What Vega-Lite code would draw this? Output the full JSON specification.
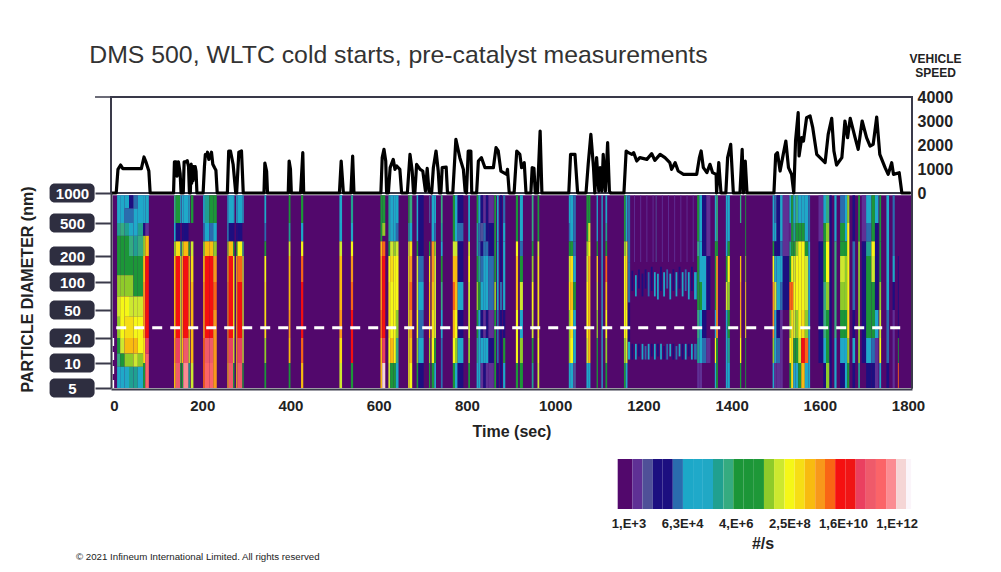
{"$schema":"https://vega.github.io/schema/vega-lite/v6.json","background":"white","padding":{"left":18,"top":42,"right":0,"bottom":0},"bounds":"flush","spacing":0,"config":{"font":"Liberation Sans","view":{"stroke":null}},
"datasets":{
"speed":[{"t":-5,"v":0},{"t":5,"v":0},{"t":9,"v":986},{"t":15,"v":1166},{"t":20,"v":1014},{"t":62,"v":1014},{"t":68,"v":1500},{"t":73,"v":1264},{"t":79,"v":916},{"t":82,"v":0},{"t":135,"v":0},{"t":137,"v":1300},{"t":141,"v":1300},{"t":143,"v":700},{"t":146,"v":1300},{"t":150,"v":800},{"t":152,"v":0},{"t":157,"v":0},{"t":159,"v":1300},{"t":163,"v":1300},{"t":166,"v":1350},{"t":169,"v":1100},{"t":171,"v":0},{"t":173,"v":0},{"t":175,"v":1200},{"t":176,"v":400},{"t":178,"v":1100},{"t":179,"v":500},{"t":181,"v":1100},{"t":182,"v":600},{"t":184,"v":1100},{"t":186,"v":900},{"t":188,"v":0},{"t":202,"v":0},{"t":205,"v":1100},{"t":207,"v":1600},{"t":210,"v":1550},{"t":212,"v":1700},{"t":215,"v":1400},{"t":218,"v":1500},{"t":221,"v":1700},{"t":224,"v":1200},{"t":228,"v":1050},{"t":231,"v":950},{"t":234,"v":0},{"t":257,"v":0},{"t":260,"v":1750},{"t":264,"v":1750},{"t":270,"v":1200},{"t":276,"v":0},{"t":278,"v":0},{"t":283,"v":1700},{"t":289,"v":1750},{"t":291,"v":900},{"t":293,"v":0},{"t":340,"v":0},{"t":342,"v":1250},{"t":346,"v":900},{"t":348,"v":0},{"t":395,"v":0},{"t":397,"v":1333},{"t":400,"v":1000},{"t":402,"v":0},{"t":423,"v":0},{"t":428,"v":1680},{"t":430,"v":0},{"t":511,"v":0},{"t":515,"v":1333},{"t":520,"v":0},{"t":537,"v":0},{"t":541,"v":1542},{"t":544,"v":0},{"t":605,"v":0},{"t":608,"v":1472},{"t":612,"v":1820},{"t":616,"v":1333},{"t":618,"v":0},{"t":622,"v":0},{"t":626,"v":1055},{"t":633,"v":1400},{"t":637,"v":985},{"t":641,"v":1125},{"t":648,"v":985},{"t":652,"v":0},{"t":665,"v":0},{"t":671,"v":1610},{"t":676,"v":916},{"t":679,"v":0},{"t":682,"v":0},{"t":686,"v":1194},{"t":694,"v":985},{"t":700,"v":916},{"t":706,"v":80},{"t":710,"v":1028},{"t":714,"v":80},{"t":720,"v":0},{"t":724,"v":1055},{"t":730,"v":1750},{"t":735,"v":916},{"t":738,"v":0},{"t":741,"v":0},{"t":744,"v":1055},{"t":753,"v":1083},{"t":756,"v":0},{"t":768,"v":0},{"t":775,"v":2236},{"t":784,"v":1472},{"t":792,"v":985},{"t":796,"v":80},{"t":799,"v":0},{"t":803,"v":1750},{"t":809,"v":1750},{"t":811,"v":0},{"t":822,"v":0},{"t":826,"v":1333},{"t":833,"v":1472},{"t":841,"v":1055},{"t":860,"v":1055},{"t":866,"v":1889},{"t":871,"v":1750},{"t":877,"v":916},{"t":890,"v":778},{"t":892,"v":985},{"t":896,"v":0},{"t":907,"v":0},{"t":913,"v":1750},{"t":920,"v":1610},{"t":924,"v":1055},{"t":930,"v":1260},{"t":934,"v":0},{"t":945,"v":0},{"t":948,"v":1055},{"t":952,"v":1028},{"t":955,"v":0},{"t":960,"v":0},{"t":966,"v":2583},{"t":970,"v":0},{"t":1031,"v":0},{"t":1035,"v":1610},{"t":1045,"v":1610},{"t":1051,"v":0},{"t":1070,"v":0},{"t":1075,"v":1200},{"t":1081,"v":2444},{"t":1087,"v":1055},{"t":1090,"v":0},{"t":1094,"v":1472},{"t":1099,"v":80},{"t":1102,"v":1055},{"t":1106,"v":80},{"t":1109,"v":1610},{"t":1114,"v":80},{"t":1119,"v":2097},{"t":1123,"v":80},{"t":1126,"v":0},{"t":1156,"v":0},{"t":1161,"v":1750},{"t":1166,"v":1680},{"t":1174,"v":1610},{"t":1178,"v":1680},{"t":1185,"v":1333},{"t":1192,"v":1472},{"t":1208,"v":1400},{"t":1219,"v":1640},{"t":1226,"v":1360},{"t":1238,"v":1610},{"t":1249,"v":1472},{"t":1260,"v":1264},{"t":1264,"v":986},{"t":1272,"v":1264},{"t":1279,"v":916},{"t":1291,"v":777},{"t":1321,"v":777},{"t":1327,"v":1472},{"t":1331,"v":1750},{"t":1336,"v":1055},{"t":1344,"v":847},{"t":1351,"v":1194},{"t":1357,"v":847},{"t":1365,"v":777},{"t":1366,"v":0},{"t":1371,"v":1264},{"t":1376,"v":0},{"t":1387,"v":0},{"t":1391,"v":1472},{"t":1398,"v":2028},{"t":1404,"v":0},{"t":1419,"v":0},{"t":1424,"v":1819},{"t":1427,"v":0},{"t":1431,"v":1333},{"t":1435,"v":0},{"t":1496,"v":0},{"t":1500,"v":1600},{"t":1504,"v":1680},{"t":1510,"v":916},{"t":1517,"v":1600},{"t":1523,"v":2166},{"t":1529,"v":1055},{"t":1536,"v":777},{"t":1541,"v":0},{"t":1545,"v":2166},{"t":1551,"v":3347},{"t":1553,"v":1541},{"t":1559,"v":2305},{"t":1563,"v":2166},{"t":1570,"v":3138},{"t":1578,"v":3208},{"t":1584,"v":2722},{"t":1593,"v":1610},{"t":1612,"v":1264},{"t":1619,"v":2444},{"t":1627,"v":3111},{"t":1632,"v":1750},{"t":1638,"v":1166},{"t":1650,"v":1472},{"t":1657,"v":3000},{"t":1663,"v":2305},{"t":1669,"v":3111},{"t":1680,"v":2305},{"t":1687,"v":1819},{"t":1696,"v":3000},{"t":1706,"v":2305},{"t":1714,"v":1957},{"t":1721,"v":2027},{"t":1729,"v":3166},{"t":1736,"v":1610},{"t":1748,"v":1055},{"t":1755,"v":777},{"t":1763,"v":1264},{"t":1767,"v":777},{"t":1780,"v":847},{"t":1786,"v":0},{"t":1806,"v":0}],
"heat":[{"t0":-3,"t1":1809,"d0":5,"d1":950,"v":3},
{"t0":7,"t1":14,"d0":500,"d1":950,"v":5.3},{"t0":7,"t1":14,"d0":350,"d1":500,"v":6},{"t0":7,"t1":14,"d0":120,"d1":350,"v":7},{"t0":7,"t1":14,"d0":70,"d1":120,"v":7.7},{"t0":7,"t1":14,"d0":40,"d1":70,"v":8},{"t0":7,"t1":14,"d0":20,"d1":40,"v":7.7},{"t0":7,"t1":14,"d0":13,"d1":20,"v":7},{"t0":7,"t1":14,"d0":9,"d1":13,"v":6.3},{"t0":7,"t1":14,"d0":5,"d1":9,"v":5.3},
{"t0":14,"t1":24,"d0":500,"d1":950,"v":5.3},{"t0":14,"t1":24,"d0":350,"d1":500,"v":6.3},{"t0":14,"t1":24,"d0":120,"d1":350,"v":7},{"t0":14,"t1":24,"d0":70,"d1":120,"v":7.7},{"t0":14,"t1":24,"d0":20,"d1":70,"v":8.4},{"t0":14,"t1":24,"d0":13,"d1":20,"v":8},{"t0":14,"t1":24,"d0":9,"d1":13,"v":7},{"t0":14,"t1":24,"d0":5,"d1":9,"v":5.3},
{"t0":24,"t1":34,"d0":700,"d1":950,"v":5},{"t0":24,"t1":34,"d0":500,"d1":700,"v":4.7},{"t0":24,"t1":34,"d0":350,"d1":500,"v":6},{"t0":24,"t1":34,"d0":120,"d1":350,"v":7},{"t0":24,"t1":34,"d0":70,"d1":120,"v":7.7},{"t0":24,"t1":34,"d0":40,"d1":70,"v":8.4},{"t0":24,"t1":34,"d0":20,"d1":40,"v":8.7},{"t0":24,"t1":34,"d0":13,"d1":20,"v":9},{"t0":24,"t1":34,"d0":9,"d1":13,"v":7.7},{"t0":24,"t1":34,"d0":5,"d1":9,"v":5.5},
{"t0":34,"t1":44,"d0":700,"d1":950,"v":4.4},{"t0":34,"t1":44,"d0":500,"d1":700,"v":4.7},{"t0":34,"t1":44,"d0":350,"d1":500,"v":5.5},{"t0":34,"t1":44,"d0":200,"d1":350,"v":6.3},{"t0":34,"t1":44,"d0":120,"d1":200,"v":7},{"t0":34,"t1":44,"d0":70,"d1":120,"v":7.7},{"t0":34,"t1":44,"d0":40,"d1":70,"v":8.2},{"t0":34,"t1":44,"d0":20,"d1":40,"v":8.7},{"t0":34,"t1":44,"d0":13,"d1":20,"v":9.1},{"t0":34,"t1":44,"d0":9,"d1":13,"v":7.7},{"t0":34,"t1":44,"d0":5,"d1":9,"v":6},
{"t0":44,"t1":54,"d0":700,"d1":950,"v":4.6},{"t0":44,"t1":54,"d0":350,"d1":700,"v":5.3},{"t0":44,"t1":54,"d0":200,"d1":350,"v":6},{"t0":44,"t1":54,"d0":70,"d1":200,"v":7},{"t0":44,"t1":54,"d0":40,"d1":70,"v":8.2},{"t0":44,"t1":54,"d0":20,"d1":40,"v":8.5},{"t0":44,"t1":54,"d0":13,"d1":20,"v":8.9},{"t0":44,"t1":54,"d0":9,"d1":13,"v":7.9},{"t0":44,"t1":54,"d0":5,"d1":9,"v":6},
{"t0":54,"t1":66,"d0":500,"d1":950,"v":5.3},{"t0":54,"t1":66,"d0":350,"d1":500,"v":6},{"t0":54,"t1":66,"d0":200,"d1":350,"v":6.3},{"t0":54,"t1":66,"d0":70,"d1":200,"v":7},{"t0":54,"t1":66,"d0":40,"d1":70,"v":8},{"t0":54,"t1":66,"d0":13,"d1":40,"v":8.4},{"t0":54,"t1":66,"d0":9,"d1":13,"v":7.7},{"t0":54,"t1":66,"d0":5,"d1":9,"v":5.3},
{"t0":66,"t1":71,"d0":500,"d1":950,"v":5.3},{"t0":66,"t1":71,"d0":350,"d1":500,"v":4.3},{"t0":66,"t1":71,"d0":200,"d1":350,"v":7.7},{"t0":66,"t1":71,"d0":100,"d1":200,"v":9.2},{"t0":66,"t1":71,"d0":20,"d1":100,"v":9.4},{"t0":66,"t1":71,"d0":10,"d1":20,"v":8.7},{"t0":66,"t1":71,"d0":5,"d1":10,"v":7},
{"t0":71,"t1":79,"d0":500,"d1":950,"v":5.5},{"t0":71,"t1":79,"d0":350,"d1":500,"v":3.3},{"t0":71,"t1":79,"d0":200,"d1":350,"v":9},{"t0":71,"t1":79,"d0":20,"d1":200,"v":10.2},{"t0":71,"t1":79,"d0":13,"d1":20,"v":10.9},{"t0":71,"t1":79,"d0":5,"d1":13,"v":11.3},
{"t0":136,"t1":140,"d0":500,"d1":950,"v":6.3},{"t0":136,"t1":140,"d0":300,"d1":500,"v":5},{"t0":136,"t1":140,"d0":200,"d1":300,"v":7.7},{"t0":136,"t1":140,"d0":20,"d1":200,"v":9.1},{"t0":136,"t1":140,"d0":10,"d1":20,"v":9.4},{"t0":136,"t1":140,"d0":5,"d1":10,"v":9.1},
{"t0":140,"t1":150,"d0":500,"d1":950,"v":7},{"t0":140,"t1":150,"d0":300,"d1":500,"v":4.3},{"t0":140,"t1":150,"d0":200,"d1":300,"v":8.8},{"t0":140,"t1":150,"d0":20,"d1":200,"v":10.2},{"t0":140,"t1":150,"d0":10,"d1":20,"v":10.8},{"t0":140,"t1":150,"d0":5,"d1":10,"v":11.2},
{"t0":150,"t1":153,"d0":500,"d1":950,"v":5.3},{"t0":150,"t1":153,"d0":200,"d1":300,"v":6.3},{"t0":150,"t1":153,"d0":10,"d1":200,"v":8},{"t0":150,"t1":153,"d0":5,"d1":10,"v":7},
{"t0":154,"t1":157,"d0":500,"d1":950,"v":5.3},{"t0":154,"t1":157,"d0":300,"d1":500,"v":4.3},{"t0":154,"t1":157,"d0":200,"d1":300,"v":7.7},{"t0":154,"t1":157,"d0":20,"d1":200,"v":9.4},{"t0":154,"t1":157,"d0":10,"d1":20,"v":9.1},{"t0":154,"t1":157,"d0":5,"d1":10,"v":7},
{"t0":157,"t1":169,"d0":500,"d1":950,"v":5.3},{"t0":157,"t1":169,"d0":300,"d1":500,"v":4.2},{"t0":157,"t1":169,"d0":200,"d1":300,"v":9},{"t0":157,"t1":169,"d0":20,"d1":200,"v":10.2},{"t0":157,"t1":169,"d0":10,"d1":20,"v":11},{"t0":157,"t1":169,"d0":5,"d1":10,"v":11.8},
{"t0":169,"t1":172,"d0":500,"d1":950,"v":5},{"t0":169,"t1":172,"d0":200,"d1":300,"v":7},{"t0":169,"t1":172,"d0":20,"d1":200,"v":9},{"t0":169,"t1":172,"d0":10,"d1":20,"v":8},{"t0":169,"t1":172,"d0":5,"d1":10,"v":6},
{"t0":174,"t1":180,"d0":500,"d1":950,"v":7},{"t0":174,"t1":180,"d0":200,"d1":300,"v":8.2},{"t0":174,"t1":180,"d0":100,"d1":200,"v":8.7},{"t0":174,"t1":180,"d0":20,"d1":100,"v":9.2},{"t0":174,"t1":180,"d0":10,"d1":20,"v":9},{"t0":174,"t1":180,"d0":5,"d1":10,"v":8},
{"t0":202,"t1":206,"d0":500,"d1":950,"v":5.3},{"t0":202,"t1":206,"d0":300,"d1":500,"v":4.6},{"t0":202,"t1":206,"d0":200,"d1":300,"v":7.7},{"t0":202,"t1":206,"d0":100,"d1":200,"v":9},{"t0":202,"t1":206,"d0":20,"d1":100,"v":9.3},{"t0":202,"t1":206,"d0":5,"d1":20,"v":9.7},
{"t0":206,"t1":216,"d0":500,"d1":950,"v":6},{"t0":206,"t1":216,"d0":300,"d1":500,"v":5},{"t0":206,"t1":216,"d0":200,"d1":300,"v":9.1},{"t0":206,"t1":216,"d0":20,"d1":200,"v":10.2},{"t0":206,"t1":216,"d0":10,"d1":20,"v":11},{"t0":206,"t1":216,"d0":5,"d1":10,"v":11.5},
{"t0":216,"t1":225,"d0":500,"d1":950,"v":7},{"t0":216,"t1":225,"d0":300,"d1":500,"v":4.5},{"t0":216,"t1":225,"d0":200,"d1":300,"v":9},{"t0":216,"t1":225,"d0":20,"d1":200,"v":10.2},{"t0":216,"t1":225,"d0":10,"d1":20,"v":11},{"t0":216,"t1":225,"d0":5,"d1":10,"v":11.4},
{"t0":225,"t1":233,"d0":500,"d1":950,"v":7},{"t0":225,"t1":233,"d0":300,"d1":500,"v":5.3},{"t0":225,"t1":233,"d0":200,"d1":300,"v":7.7},{"t0":225,"t1":233,"d0":100,"d1":200,"v":9.4},{"t0":225,"t1":233,"d0":50,"d1":100,"v":9.8},{"t0":225,"t1":233,"d0":20,"d1":50,"v":9.4},{"t0":225,"t1":233,"d0":5,"d1":20,"v":9.4},
{"t0":257,"t1":260,"d0":500,"d1":950,"v":5.3},{"t0":257,"t1":260,"d0":300,"d1":500,"v":5},{"t0":257,"t1":260,"d0":200,"d1":300,"v":7.7},{"t0":257,"t1":260,"d0":100,"d1":200,"v":9},{"t0":257,"t1":260,"d0":10,"d1":100,"v":9.4},{"t0":257,"t1":260,"d0":5,"d1":10,"v":9},
{"t0":260,"t1":270,"d0":500,"d1":950,"v":5.3},{"t0":260,"t1":270,"d0":300,"d1":500,"v":4.2},{"t0":260,"t1":270,"d0":200,"d1":300,"v":8.9},{"t0":260,"t1":270,"d0":20,"d1":200,"v":10.2},{"t0":260,"t1":270,"d0":10,"d1":20,"v":10.8},{"t0":260,"t1":270,"d0":5,"d1":10,"v":11},
{"t0":270,"t1":273,"d0":500,"d1":950,"v":5.3},{"t0":270,"t1":273,"d0":300,"d1":500,"v":4.3},{"t0":270,"t1":273,"d0":200,"d1":300,"v":7},{"t0":270,"t1":273,"d0":20,"d1":200,"v":8.4},{"t0":270,"t1":273,"d0":10,"d1":20,"v":8},{"t0":270,"t1":273,"d0":5,"d1":10,"v":7},
{"t0":277,"t1":280,"d0":500,"d1":950,"v":5},{"t0":277,"t1":280,"d0":300,"d1":500,"v":4.3},{"t0":277,"t1":280,"d0":200,"d1":300,"v":7},{"t0":277,"t1":280,"d0":5,"d1":200,"v":9},
{"t0":280,"t1":291,"d0":500,"d1":950,"v":5},{"t0":280,"t1":291,"d0":300,"d1":500,"v":4.3},{"t0":280,"t1":291,"d0":200,"d1":300,"v":8.5},{"t0":280,"t1":291,"d0":100,"d1":200,"v":9.8},{"t0":280,"t1":291,"d0":20,"d1":100,"v":10.2},{"t0":280,"t1":291,"d0":10,"d1":20,"v":10.8},{"t0":280,"t1":291,"d0":5,"d1":10,"v":11.2},
{"t0":291,"t1":294,"d0":500,"d1":950,"v":5.3},{"t0":291,"t1":294,"d0":200,"d1":300,"v":6.3},{"t0":291,"t1":294,"d0":10,"d1":200,"v":8},{"t0":291,"t1":294,"d0":5,"d1":10,"v":7},
{"t0":341,"t1":345,"d0":500,"d1":950,"v":5.2},{"t0":341,"t1":345,"d0":300,"d1":500,"v":4.8},{"t0":341,"t1":345,"d0":200,"d1":300,"v":7},{"t0":341,"t1":345,"d0":100,"d1":200,"v":8.4},{"t0":341,"t1":345,"d0":20,"d1":100,"v":8.7},{"t0":341,"t1":345,"d0":10,"d1":20,"v":7.7},{"t0":341,"t1":345,"d0":5,"d1":10,"v":6.5},
{"t0":396,"t1":400,"d0":500,"d1":950,"v":6.5},{"t0":396,"t1":400,"d0":300,"d1":500,"v":6},{"t0":396,"t1":400,"d0":200,"d1":300,"v":8},{"t0":396,"t1":400,"d0":100,"d1":200,"v":8.9},{"t0":396,"t1":400,"d0":50,"d1":100,"v":9.2},{"t0":396,"t1":400,"d0":20,"d1":50,"v":9.4},{"t0":396,"t1":400,"d0":10,"d1":20,"v":9},{"t0":396,"t1":400,"d0":5,"d1":10,"v":7},
{"t0":424,"t1":429,"d0":500,"d1":950,"v":6.5},{"t0":424,"t1":429,"d0":300,"d1":500,"v":5},{"t0":424,"t1":429,"d0":200,"d1":300,"v":8.4},{"t0":424,"t1":429,"d0":100,"d1":200,"v":9.6},{"t0":424,"t1":429,"d0":20,"d1":100,"v":10},{"t0":424,"t1":429,"d0":10,"d1":20,"v":9.6},{"t0":424,"t1":429,"d0":5,"d1":10,"v":8.9},
{"t0":511,"t1":517,"d0":500,"d1":950,"v":5.2},{"t0":511,"t1":517,"d0":300,"d1":500,"v":5},{"t0":511,"t1":517,"d0":200,"d1":300,"v":8},{"t0":511,"t1":517,"d0":100,"d1":200,"v":8.9},{"t0":511,"t1":517,"d0":50,"d1":100,"v":9.2},{"t0":511,"t1":517,"d0":20,"d1":50,"v":9.4},{"t0":511,"t1":517,"d0":10,"d1":20,"v":8.7},{"t0":511,"t1":517,"d0":5,"d1":10,"v":8},
{"t0":537,"t1":542,"d0":500,"d1":950,"v":6},{"t0":537,"t1":542,"d0":300,"d1":500,"v":5.5},{"t0":537,"t1":542,"d0":200,"d1":300,"v":8.4},{"t0":537,"t1":542,"d0":100,"d1":200,"v":9.4},{"t0":537,"t1":542,"d0":50,"d1":100,"v":9.8},{"t0":537,"t1":542,"d0":10,"d1":50,"v":10},{"t0":537,"t1":542,"d0":5,"d1":10,"v":7},
{"t0":604,"t1":608,"d0":500,"d1":950,"v":6.5},{"t0":604,"t1":608,"d0":300,"d1":500,"v":7},{"t0":604,"t1":608,"d0":200,"d1":300,"v":9},{"t0":604,"t1":608,"d0":50,"d1":200,"v":9.4},{"t0":604,"t1":608,"d0":20,"d1":50,"v":9.7},{"t0":604,"t1":608,"d0":5,"d1":20,"v":9},
{"t0":608,"t1":615,"d0":500,"d1":950,"v":7},{"t0":608,"t1":615,"d0":350,"d1":500,"v":7.7},{"t0":608,"t1":615,"d0":200,"d1":300,"v":9.7},{"t0":608,"t1":615,"d0":100,"d1":200,"v":10.2},{"t0":608,"t1":615,"d0":20,"d1":100,"v":10},{"t0":608,"t1":615,"d0":10,"d1":20,"v":10.8},{"t0":608,"t1":615,"d0":5,"d1":10,"v":12},
{"t0":622,"t1":626,"d0":300,"d1":950,"v":6},{"t0":622,"t1":626,"d0":200,"d1":300,"v":7},{"t0":622,"t1":626,"d0":100,"d1":200,"v":8.4},{"t0":622,"t1":626,"d0":20,"d1":100,"v":8.7},{"t0":622,"t1":626,"d0":10,"d1":20,"v":8.4},{"t0":622,"t1":626,"d0":5,"d1":10,"v":8},
{"t0":626,"t1":634,"d0":500,"d1":950,"v":5.3},{"t0":626,"t1":634,"d0":300,"d1":500,"v":5.5},{"t0":626,"t1":634,"d0":200,"d1":300,"v":8.2},{"t0":626,"t1":634,"d0":100,"d1":200,"v":8.7},{"t0":626,"t1":634,"d0":20,"d1":100,"v":8.4},{"t0":626,"t1":634,"d0":10,"d1":20,"v":8.9},{"t0":626,"t1":634,"d0":5,"d1":10,"v":7},
{"t0":634,"t1":639,"d0":500,"d1":950,"v":5.3},{"t0":634,"t1":639,"d0":300,"d1":500,"v":5},{"t0":634,"t1":639,"d0":200,"d1":300,"v":7.7},{"t0":634,"t1":639,"d0":10,"d1":200,"v":8.4},{"t0":634,"t1":639,"d0":5,"d1":10,"v":7},
{"t0":639,"t1":645,"d0":500,"d1":950,"v":5},{"t0":639,"t1":645,"d0":300,"d1":500,"v":4.6},{"t0":639,"t1":645,"d0":200,"d1":300,"v":8},{"t0":639,"t1":645,"d0":50,"d1":200,"v":8.4},{"t0":639,"t1":645,"d0":20,"d1":50,"v":7.7},{"t0":639,"t1":645,"d0":10,"d1":20,"v":6.2},{"t0":639,"t1":645,"d0":5,"d1":10,"v":5},
{"t0":667,"t1":670,"d0":500,"d1":950,"v":7},{"t0":667,"t1":670,"d0":300,"d1":500,"v":6},{"t0":667,"t1":670,"d0":200,"d1":300,"v":8},{"t0":667,"t1":670,"d0":5,"d1":200,"v":8.5},
{"t0":670,"t1":676,"d0":500,"d1":950,"v":6.3},{"t0":670,"t1":676,"d0":300,"d1":500,"v":5},{"t0":670,"t1":676,"d0":200,"d1":300,"v":8.7},{"t0":670,"t1":676,"d0":100,"d1":200,"v":9.4},{"t0":670,"t1":676,"d0":50,"d1":100,"v":9.6},{"t0":670,"t1":676,"d0":20,"d1":50,"v":9.4},{"t0":670,"t1":676,"d0":10,"d1":20,"v":9},{"t0":670,"t1":676,"d0":5,"d1":10,"v":8.4},
{"t0":686,"t1":690,"d0":300,"d1":950,"v":5.3},{"t0":686,"t1":690,"d0":200,"d1":300,"v":7},{"t0":686,"t1":690,"d0":50,"d1":200,"v":8.2},{"t0":686,"t1":690,"d0":20,"d1":50,"v":8.4},{"t0":686,"t1":690,"d0":10,"d1":20,"v":7.7},{"t0":686,"t1":690,"d0":5,"d1":10,"v":6.5},
{"t0":690,"t1":702,"d0":200,"d1":950,"v":4.3},{"t0":690,"t1":702,"d0":100,"d1":200,"v":4.6},{"t0":690,"t1":702,"d0":50,"d1":100,"v":5},{"t0":690,"t1":702,"d0":20,"d1":50,"v":4.5},{"t0":690,"t1":702,"d0":10,"d1":20,"v":5.3},{"t0":690,"t1":702,"d0":5,"d1":10,"v":4.3},
{"t0":714,"t1":717,"d0":500,"d1":950,"v":3.5},{"t0":714,"t1":717,"d0":200,"d1":300,"v":7},{"t0":714,"t1":717,"d0":100,"d1":200,"v":8.7},{"t0":714,"t1":717,"d0":50,"d1":100,"v":9.2},{"t0":714,"t1":717,"d0":20,"d1":50,"v":9},{"t0":714,"t1":717,"d0":10,"d1":20,"v":7.7},{"t0":714,"t1":717,"d0":5,"d1":10,"v":6.5},
{"t0":720,"t1":726,"d0":300,"d1":950,"v":5.3},{"t0":720,"t1":726,"d0":100,"d1":300,"v":9.4},{"t0":720,"t1":726,"d0":50,"d1":100,"v":9},{"t0":720,"t1":726,"d0":20,"d1":50,"v":8.7},{"t0":720,"t1":726,"d0":10,"d1":20,"v":8.4},{"t0":720,"t1":726,"d0":5,"d1":10,"v":7},
{"t0":726,"t1":730,"d0":500,"d1":950,"v":5},{"t0":726,"t1":730,"d0":300,"d1":500,"v":4.6},{"t0":726,"t1":730,"d0":200,"d1":300,"v":7.7},{"t0":726,"t1":730,"d0":20,"d1":200,"v":8},{"t0":726,"t1":730,"d0":10,"d1":20,"v":7},{"t0":726,"t1":730,"d0":5,"d1":10,"v":5.3},
{"t0":741,"t1":745,"d0":500,"d1":950,"v":6.3},{"t0":741,"t1":745,"d0":300,"d1":500,"v":6},{"t0":741,"t1":745,"d0":200,"d1":300,"v":5.3},{"t0":741,"t1":745,"d0":100,"d1":200,"v":7},{"t0":741,"t1":745,"d0":50,"d1":100,"v":6.3},{"t0":741,"t1":745,"d0":20,"d1":50,"v":5.3},{"t0":741,"t1":745,"d0":5,"d1":20,"v":4.7},
{"t0":768,"t1":773,"d0":500,"d1":950,"v":7},{"t0":768,"t1":773,"d0":300,"d1":500,"v":6.5},{"t0":768,"t1":773,"d0":200,"d1":300,"v":8},{"t0":768,"t1":773,"d0":100,"d1":200,"v":9.2},{"t0":768,"t1":773,"d0":50,"d1":100,"v":9.6},{"t0":768,"t1":773,"d0":20,"d1":50,"v":8.9},{"t0":768,"t1":773,"d0":10,"d1":20,"v":8.4},{"t0":768,"t1":773,"d0":5,"d1":10,"v":7},
{"t0":773,"t1":779,"d0":300,"d1":950,"v":5.3},{"t0":773,"t1":779,"d0":200,"d1":300,"v":8.2},{"t0":773,"t1":779,"d0":50,"d1":200,"v":9},{"t0":773,"t1":779,"d0":20,"d1":50,"v":8.4},{"t0":773,"t1":779,"d0":10,"d1":20,"v":7.7},{"t0":773,"t1":779,"d0":5,"d1":10,"v":5.3},
{"t0":779,"t1":792,"d0":500,"d1":950,"v":4.3},{"t0":779,"t1":792,"d0":300,"d1":500,"v":4.8},{"t0":779,"t1":792,"d0":100,"d1":300,"v":4.3},{"t0":779,"t1":792,"d0":50,"d1":100,"v":5.2},{"t0":779,"t1":792,"d0":20,"d1":50,"v":4.4},{"t0":779,"t1":792,"d0":10,"d1":20,"v":5.3},{"t0":779,"t1":792,"d0":5,"d1":10,"v":4.3},
{"t0":803,"t1":807,"d0":300,"d1":950,"v":5.3},{"t0":803,"t1":807,"d0":200,"d1":300,"v":8},{"t0":803,"t1":807,"d0":100,"d1":200,"v":8.4},{"t0":803,"t1":807,"d0":50,"d1":100,"v":8.2},{"t0":803,"t1":807,"d0":20,"d1":50,"v":8},{"t0":803,"t1":807,"d0":10,"d1":20,"v":7.7},{"t0":803,"t1":807,"d0":5,"d1":10,"v":7},
{"t0":822,"t1":826,"d0":500,"d1":950,"v":6.5},{"t0":822,"t1":826,"d0":200,"d1":500,"v":6},{"t0":822,"t1":826,"d0":100,"d1":200,"v":7},{"t0":822,"t1":826,"d0":50,"d1":100,"v":7.8},{"t0":822,"t1":826,"d0":20,"d1":50,"v":7},{"t0":822,"t1":826,"d0":10,"d1":20,"v":6},{"t0":822,"t1":826,"d0":5,"d1":10,"v":5.5},
{"t0":826,"t1":831,"d0":500,"d1":950,"v":5},{"t0":826,"t1":831,"d0":300,"d1":500,"v":4.5},{"t0":826,"t1":831,"d0":200,"d1":300,"v":4.6},{"t0":826,"t1":831,"d0":100,"d1":200,"v":6},{"t0":826,"t1":831,"d0":50,"d1":100,"v":6.5},{"t0":826,"t1":831,"d0":10,"d1":50,"v":5.3},{"t0":826,"t1":831,"d0":5,"d1":10,"v":5},
{"t0":831,"t1":837,"d0":500,"d1":950,"v":4.3},{"t0":831,"t1":837,"d0":300,"d1":500,"v":3.6},{"t0":831,"t1":837,"d0":200,"d1":300,"v":4.3},{"t0":831,"t1":837,"d0":100,"d1":200,"v":4.6},{"t0":831,"t1":837,"d0":50,"d1":100,"v":5},{"t0":831,"t1":837,"d0":20,"d1":50,"v":4.3},{"t0":831,"t1":837,"d0":10,"d1":20,"v":5.3},{"t0":831,"t1":837,"d0":5,"d1":10,"v":3.3},
{"t0":837,"t1":843,"d0":500,"d1":950,"v":3.3},{"t0":837,"t1":843,"d0":300,"d1":500,"v":4.5},{"t0":837,"t1":843,"d0":200,"d1":300,"v":4.8},{"t0":837,"t1":843,"d0":100,"d1":200,"v":5.2},{"t0":837,"t1":843,"d0":50,"d1":100,"v":5},{"t0":837,"t1":843,"d0":20,"d1":50,"v":3.3},{"t0":837,"t1":843,"d0":10,"d1":20,"v":5.4},{"t0":837,"t1":843,"d0":5,"d1":10,"v":4.2},
{"t0":843,"t1":849,"d0":300,"d1":950,"v":4.3},{"t0":843,"t1":849,"d0":200,"d1":300,"v":4.6},{"t0":843,"t1":849,"d0":100,"d1":200,"v":5},{"t0":843,"t1":849,"d0":50,"d1":100,"v":5.3},{"t0":843,"t1":849,"d0":20,"d1":50,"v":4.3},{"t0":843,"t1":849,"d0":10,"d1":20,"v":5.3},{"t0":843,"t1":849,"d0":5,"d1":10,"v":3.3},
{"t0":849,"t1":861,"d0":500,"d1":950,"v":3.3},{"t0":849,"t1":861,"d0":200,"d1":500,"v":4.3},{"t0":849,"t1":861,"d0":50,"d1":200,"v":4.6},{"t0":849,"t1":861,"d0":20,"d1":50,"v":3.3},{"t0":849,"t1":861,"d0":10,"d1":20,"v":4.4},{"t0":849,"t1":861,"d0":5,"d1":10,"v":3.3},
{"t0":862,"t1":866,"d0":100,"d1":950,"v":7},{"t0":862,"t1":866,"d0":50,"d1":100,"v":7.7},{"t0":862,"t1":866,"d0":5,"d1":50,"v":7},
{"t0":868,"t1":872,"d0":300,"d1":950,"v":5.2},{"t0":868,"t1":872,"d0":50,"d1":300,"v":5},{"t0":868,"t1":872,"d0":10,"d1":50,"v":4.5},{"t0":868,"t1":872,"d0":5,"d1":10,"v":4.2},
{"t0":875,"t1":880,"d0":100,"d1":950,"v":4.2},{"t0":875,"t1":880,"d0":50,"d1":100,"v":4.5},{"t0":875,"t1":880,"d0":5,"d1":50,"v":4.2},
{"t0":882,"t1":887,"d0":500,"d1":950,"v":4.5},{"t0":882,"t1":887,"d0":300,"d1":500,"v":5},{"t0":882,"t1":887,"d0":100,"d1":300,"v":5.3},{"t0":882,"t1":887,"d0":50,"d1":100,"v":5},{"t0":882,"t1":887,"d0":20,"d1":50,"v":4.3},{"t0":882,"t1":887,"d0":10,"d1":20,"v":7},{"t0":882,"t1":887,"d0":5,"d1":10,"v":5},
{"t0":911,"t1":916,"d0":500,"d1":950,"v":6.8},{"t0":911,"t1":916,"d0":300,"d1":500,"v":6.5},{"t0":911,"t1":916,"d0":200,"d1":300,"v":8.3},{"t0":911,"t1":916,"d0":50,"d1":200,"v":8.9},{"t0":911,"t1":916,"d0":10,"d1":50,"v":8.4},{"t0":911,"t1":916,"d0":5,"d1":10,"v":7.5},
{"t0":920,"t1":927,"d0":300,"d1":950,"v":5.3},{"t0":920,"t1":927,"d0":200,"d1":300,"v":4.6},{"t0":920,"t1":927,"d0":100,"d1":200,"v":6.5},{"t0":920,"t1":927,"d0":50,"d1":100,"v":8},{"t0":920,"t1":927,"d0":20,"d1":50,"v":5.3},{"t0":920,"t1":927,"d0":10,"d1":20,"v":7.7},{"t0":920,"t1":927,"d0":5,"d1":10,"v":7},
{"t0":947,"t1":951,"d0":300,"d1":950,"v":6.3},{"t0":947,"t1":951,"d0":200,"d1":300,"v":7},{"t0":947,"t1":951,"d0":100,"d1":200,"v":7.7},{"t0":947,"t1":951,"d0":50,"d1":100,"v":8.4},{"t0":947,"t1":951,"d0":20,"d1":50,"v":8},{"t0":947,"t1":951,"d0":10,"d1":20,"v":7},{"t0":947,"t1":951,"d0":5,"d1":10,"v":6},
{"t0":960,"t1":964,"d0":300,"d1":950,"v":7},{"t0":960,"t1":964,"d0":200,"d1":300,"v":8},{"t0":960,"t1":964,"d0":20,"d1":200,"v":8.7},{"t0":960,"t1":964,"d0":10,"d1":20,"v":8.4},{"t0":960,"t1":964,"d0":5,"d1":10,"v":8},
{"t0":1031,"t1":1034,"d0":500,"d1":950,"v":5},{"t0":1031,"t1":1034,"d0":300,"d1":500,"v":4.5},{"t0":1031,"t1":1034,"d0":200,"d1":300,"v":6.5},{"t0":1031,"t1":1034,"d0":100,"d1":200,"v":8},{"t0":1031,"t1":1034,"d0":50,"d1":100,"v":8.7},{"t0":1031,"t1":1034,"d0":10,"d1":50,"v":7.7},{"t0":1031,"t1":1034,"d0":5,"d1":10,"v":5.5},
{"t0":1034,"t1":1041,"d0":500,"d1":950,"v":5.3},{"t0":1034,"t1":1041,"d0":300,"d1":500,"v":5},{"t0":1034,"t1":1041,"d0":200,"d1":300,"v":7},{"t0":1034,"t1":1041,"d0":100,"d1":200,"v":8.7},{"t0":1034,"t1":1041,"d0":50,"d1":100,"v":8.9},{"t0":1034,"t1":1041,"d0":20,"d1":50,"v":8.6},{"t0":1034,"t1":1041,"d0":10,"d1":20,"v":8.4},{"t0":1034,"t1":1041,"d0":5,"d1":10,"v":5.3},
{"t0":1041,"t1":1047,"d0":300,"d1":950,"v":4.6},{"t0":1041,"t1":1047,"d0":200,"d1":300,"v":4.8},{"t0":1041,"t1":1047,"d0":100,"d1":200,"v":5.3},{"t0":1041,"t1":1047,"d0":50,"d1":100,"v":7},{"t0":1041,"t1":1047,"d0":10,"d1":50,"v":5},{"t0":1041,"t1":1047,"d0":5,"d1":10,"v":3.5},
{"t0":1071,"t1":1075,"d0":300,"d1":950,"v":7},{"t0":1071,"t1":1075,"d0":200,"d1":300,"v":7.7},{"t0":1071,"t1":1075,"d0":100,"d1":200,"v":8},{"t0":1071,"t1":1075,"d0":20,"d1":100,"v":8.4},{"t0":1071,"t1":1075,"d0":10,"d1":20,"v":8.2},{"t0":1071,"t1":1075,"d0":5,"d1":10,"v":5.3},
{"t0":1075,"t1":1080,"d0":500,"d1":950,"v":7},{"t0":1075,"t1":1080,"d0":300,"d1":500,"v":8},{"t0":1075,"t1":1080,"d0":200,"d1":300,"v":8.4},{"t0":1075,"t1":1080,"d0":10,"d1":200,"v":8.9},{"t0":1075,"t1":1080,"d0":5,"d1":10,"v":5},
{"t0":1094,"t1":1097,"d0":300,"d1":950,"v":5.4},{"t0":1094,"t1":1097,"d0":200,"d1":300,"v":7},{"t0":1094,"t1":1097,"d0":100,"d1":200,"v":8.7},{"t0":1094,"t1":1097,"d0":50,"d1":100,"v":8},{"t0":1094,"t1":1097,"d0":20,"d1":50,"v":7.7},{"t0":1094,"t1":1097,"d0":5,"d1":20,"v":7},
{"t0":1105,"t1":1108,"d0":5,"d1":950,"v":5.3},
{"t0":1114,"t1":1118,"d0":500,"d1":950,"v":5.5},{"t0":1114,"t1":1118,"d0":300,"d1":500,"v":6},{"t0":1114,"t1":1118,"d0":200,"d1":300,"v":7},{"t0":1114,"t1":1118,"d0":100,"d1":200,"v":9.9},{"t0":1114,"t1":1118,"d0":50,"d1":100,"v":8.9},{"t0":1114,"t1":1118,"d0":20,"d1":50,"v":8.4},{"t0":1114,"t1":1118,"d0":10,"d1":20,"v":7.7},{"t0":1114,"t1":1118,"d0":5,"d1":10,"v":6.5},
{"t0":1156,"t1":1160,"d0":300,"d1":950,"v":7},{"t0":1156,"t1":1160,"d0":200,"d1":300,"v":7.7},{"t0":1156,"t1":1160,"d0":20,"d1":200,"v":8.4},{"t0":1156,"t1":1160,"d0":10,"d1":20,"v":7.7},{"t0":1156,"t1":1160,"d0":5,"d1":10,"v":6.5},
{"t0":1160,"t1":1164,"d0":300,"d1":950,"v":5.5},{"t0":1160,"t1":1164,"d0":200,"d1":300,"v":8},{"t0":1160,"t1":1164,"d0":50,"d1":200,"v":8.7},{"t0":1160,"t1":1164,"d0":20,"d1":50,"v":8.4},{"t0":1160,"t1":1164,"d0":10,"d1":20,"v":8},{"t0":1160,"t1":1164,"d0":5,"d1":10,"v":5.3},
{"t0":1165,"t1":1170,"d0":170,"d1":950,"v":4.6},{"t0":1165,"t1":1170,"d0":60,"d1":170,"v":4.5},{"t0":1165,"t1":1170,"d0":18,"d1":60,"v":4.4},{"t0":1165,"t1":1170,"d0":11,"d1":18,"v":5.2},
{"t0":1173,"t1":1177,"d0":80,"d1":135,"v":4.2},{"t0":1173,"t1":1177,"d0":11,"d1":17,"v":4.4},
{"t0":1179,"t1":1181,"d0":170,"d1":950,"v":3.3},{"t0":1181,"t1":1185,"d0":70,"d1":120,"v":5},{"t0":1181,"t1":1185,"d0":11,"d1":17,"v":5},
{"t0":1188,"t1":1192,"d0":85,"d1":140,"v":3.9},{"t0":1188,"t1":1192,"d0":12,"d1":17,"v":4.2},
{"t0":1193,"t1":1195,"d0":170,"d1":950,"v":3.3},{"t0":1196,"t1":1200,"d0":70,"d1":125,"v":4.4},{"t0":1196,"t1":1200,"d0":11,"d1":17,"v":5},
{"t0":1203,"t1":1207,"d0":85,"d1":140,"v":4.2},{"t0":1203,"t1":1207,"d0":11,"d1":16,"v":4.5},
{"t0":1207,"t1":1209,"d0":170,"d1":950,"v":3.3},{"t0":1210,"t1":1214,"d0":70,"d1":130,"v":4.6},{"t0":1210,"t1":1214,"d0":11,"d1":17,"v":5.2},
{"t0":1217,"t1":1221,"d0":80,"d1":150,"v":4.3},{"t0":1217,"t1":1221,"d0":12,"d1":17,"v":4.3},
{"t0":1221,"t1":1223,"d0":170,"d1":950,"v":3.3},{"t0":1224,"t1":1228,"d0":70,"d1":130,"v":5.3},{"t0":1224,"t1":1228,"d0":11,"d1":17,"v":5},
{"t0":1228,"t1":1230,"d0":170,"d1":950,"v":3.6},{"t0":1231,"t1":1235,"d0":65,"d1":125,"v":5.1},{"t0":1231,"t1":1235,"d0":12,"d1":17,"v":4.4},
{"t0":1238,"t1":1242,"d0":80,"d1":150,"v":4.4},{"t0":1238,"t1":1242,"d0":11,"d1":17,"v":5.3},
{"t0":1242,"t1":1244,"d0":170,"d1":950,"v":3.3},{"t0":1245,"t1":1249,"d0":70,"d1":130,"v":5.4},{"t0":1245,"t1":1249,"d0":11,"d1":16,"v":4.3},
{"t0":1252,"t1":1256,"d0":85,"d1":140,"v":4.6},{"t0":1252,"t1":1256,"d0":11,"d1":17,"v":4.6},
{"t0":1256,"t1":1258,"d0":170,"d1":950,"v":3.3},{"t0":1259,"t1":1263,"d0":65,"d1":125,"v":5},{"t0":1259,"t1":1263,"d0":12,"d1":17,"v":5.2},
{"t0":1266,"t1":1270,"d0":80,"d1":140,"v":4.3},{"t0":1266,"t1":1270,"d0":11,"d1":17,"v":4.4},
{"t0":1270,"t1":1272,"d0":170,"d1":950,"v":3.3},{"t0":1273,"t1":1277,"d0":70,"d1":130,"v":5.2},{"t0":1273,"t1":1277,"d0":11,"d1":16,"v":4.6},
{"t0":1280,"t1":1284,"d0":85,"d1":150,"v":4.4},{"t0":1280,"t1":1284,"d0":12,"d1":17,"v":5},
{"t0":1284,"t1":1286,"d0":170,"d1":950,"v":3.3},{"t0":1287,"t1":1291,"d0":70,"d1":130,"v":5.5},{"t0":1287,"t1":1291,"d0":11,"d1":17,"v":4.3},
{"t0":1294,"t1":1298,"d0":80,"d1":140,"v":4.6},{"t0":1294,"t1":1298,"d0":11,"d1":17,"v":5.2},
{"t0":1298,"t1":1300,"d0":170,"d1":950,"v":3.3},{"t0":1301,"t1":1305,"d0":65,"d1":130,"v":5.3},{"t0":1301,"t1":1305,"d0":12,"d1":17,"v":4.3},
{"t0":1308,"t1":1312,"d0":80,"d1":150,"v":4.4},{"t0":1308,"t1":1312,"d0":11,"d1":17,"v":5},
{"t0":1312,"t1":1314,"d0":170,"d1":950,"v":3.3},{"t0":1315,"t1":1321,"d0":65,"d1":130,"v":5.3},{"t0":1315,"t1":1321,"d0":11,"d1":17,"v":4.6},
{"t0":1322,"t1":1327,"d0":300,"d1":950,"v":7},{"t0":1322,"t1":1327,"d0":200,"d1":300,"v":6.3},{"t0":1322,"t1":1327,"d0":50,"d1":200,"v":7},{"t0":1322,"t1":1327,"d0":20,"d1":50,"v":6.3},{"t0":1322,"t1":1327,"d0":10,"d1":20,"v":6},{"t0":1322,"t1":1327,"d0":5,"d1":10,"v":3.3},
{"t0":1327,"t1":1333,"d0":300,"d1":950,"v":5.3},{"t0":1327,"t1":1333,"d0":200,"d1":300,"v":5},{"t0":1327,"t1":1333,"d0":100,"d1":200,"v":5.3},{"t0":1327,"t1":1333,"d0":50,"d1":100,"v":7},{"t0":1327,"t1":1333,"d0":10,"d1":50,"v":5.3},{"t0":1327,"t1":1333,"d0":5,"d1":10,"v":3.3},
{"t0":1333,"t1":1343,"d0":200,"d1":950,"v":4.4},{"t0":1333,"t1":1343,"d0":50,"d1":200,"v":5.3},{"t0":1333,"t1":1343,"d0":20,"d1":50,"v":4.4},{"t0":1333,"t1":1343,"d0":10,"d1":20,"v":4.6},
{"t0":1343,"t1":1352,"d0":200,"d1":950,"v":3.3},{"t0":1343,"t1":1352,"d0":50,"d1":200,"v":4.2},{"t0":1343,"t1":1352,"d0":10,"d1":20,"v":3.3},
{"t0":1362,"t1":1365,"d0":300,"d1":950,"v":5.5},{"t0":1362,"t1":1365,"d0":50,"d1":300,"v":7},{"t0":1362,"t1":1365,"d0":20,"d1":50,"v":5.3},{"t0":1362,"t1":1365,"d0":10,"d1":20,"v":8.4},{"t0":1362,"t1":1365,"d0":5,"d1":10,"v":5.3},
{"t0":1365,"t1":1369,"d0":300,"d1":950,"v":6.3},{"t0":1365,"t1":1369,"d0":200,"d1":300,"v":7},{"t0":1365,"t1":1369,"d0":20,"d1":200,"v":9.4},{"t0":1365,"t1":1369,"d0":5,"d1":20,"v":7},
{"t0":1387,"t1":1391,"d0":200,"d1":950,"v":5},{"t0":1387,"t1":1391,"d0":100,"d1":200,"v":7},{"t0":1387,"t1":1391,"d0":50,"d1":100,"v":8},{"t0":1387,"t1":1391,"d0":5,"d1":50,"v":5},
{"t0":1391,"t1":1396,"d0":300,"d1":950,"v":5.3},{"t0":1391,"t1":1396,"d0":200,"d1":300,"v":7},{"t0":1391,"t1":1396,"d0":100,"d1":200,"v":8.3},{"t0":1391,"t1":1396,"d0":50,"d1":100,"v":7.8},{"t0":1391,"t1":1396,"d0":20,"d1":50,"v":6.5},{"t0":1391,"t1":1396,"d0":10,"d1":20,"v":6},{"t0":1391,"t1":1396,"d0":5,"d1":10,"v":5},
{"t0":1419,"t1":1422,"d0":500,"d1":950,"v":6.3},{"t0":1419,"t1":1422,"d0":100,"d1":200,"v":8.9},{"t0":1419,"t1":1422,"d0":50,"d1":100,"v":9.5},{"t0":1419,"t1":1422,"d0":20,"d1":50,"v":9},{"t0":1419,"t1":1422,"d0":10,"d1":20,"v":8.4},{"t0":1419,"t1":1422,"d0":5,"d1":10,"v":6.5},
{"t0":1431,"t1":1433,"d0":200,"d1":950,"v":6.7},{"t0":1431,"t1":1433,"d0":100,"d1":200,"v":7.7},{"t0":1431,"t1":1433,"d0":50,"d1":100,"v":8.7},{"t0":1431,"t1":1433,"d0":20,"d1":50,"v":8.4},{"t0":1431,"t1":1433,"d0":5,"d1":20,"v":7},
{"t0":1493,"t1":1497,"d0":300,"d1":950,"v":5.3},{"t0":1493,"t1":1497,"d0":200,"d1":300,"v":7},{"t0":1493,"t1":1497,"d0":100,"d1":200,"v":8.4},{"t0":1493,"t1":1497,"d0":20,"d1":100,"v":9.5},{"t0":1493,"t1":1497,"d0":10,"d1":20,"v":7.7},{"t0":1493,"t1":1497,"d0":5,"d1":10,"v":5.3},
{"t0":1497,"t1":1502,"d0":500,"d1":950,"v":4.6},{"t0":1497,"t1":1502,"d0":300,"d1":500,"v":5},{"t0":1497,"t1":1502,"d0":200,"d1":300,"v":4.3},{"t0":1497,"t1":1502,"d0":100,"d1":200,"v":5.3},{"t0":1497,"t1":1502,"d0":50,"d1":100,"v":8},{"t0":1497,"t1":1502,"d0":10,"d1":50,"v":5.3},{"t0":1497,"t1":1502,"d0":5,"d1":10,"v":3.3},
{"t0":1502,"t1":1510,"d0":200,"d1":950,"v":4.4},{"t0":1502,"t1":1510,"d0":50,"d1":200,"v":5.3},{"t0":1502,"t1":1510,"d0":20,"d1":50,"v":4.3},{"t0":1502,"t1":1510,"d0":10,"d1":20,"v":4.5},{"t0":1502,"t1":1510,"d0":5,"d1":10,"v":3.3},
{"t0":1510,"t1":1516,"d0":300,"d1":950,"v":5.2},{"t0":1510,"t1":1516,"d0":200,"d1":300,"v":4.5},{"t0":1510,"t1":1516,"d0":100,"d1":200,"v":5.3},{"t0":1510,"t1":1516,"d0":50,"d1":100,"v":4.6},{"t0":1510,"t1":1516,"d0":5,"d1":50,"v":3.3},
{"t0":1516,"t1":1530,"d0":200,"d1":950,"v":3.3},{"t0":1516,"t1":1530,"d0":50,"d1":200,"v":4.3},
{"t0":1531,"t1":1535,"d0":500,"d1":950,"v":5},{"t0":1531,"t1":1535,"d0":300,"d1":500,"v":3.3},{"t0":1531,"t1":1535,"d0":200,"d1":300,"v":6},{"t0":1531,"t1":1535,"d0":100,"d1":200,"v":7},{"t0":1531,"t1":1535,"d0":50,"d1":100,"v":9.6},{"t0":1531,"t1":1535,"d0":20,"d1":50,"v":7.7},{"t0":1531,"t1":1535,"d0":10,"d1":20,"v":8.4},{"t0":1531,"t1":1535,"d0":5,"d1":10,"v":7},
{"t0":1535,"t1":1540,"d0":300,"d1":950,"v":6.5},{"t0":1535,"t1":1540,"d0":200,"d1":300,"v":7},{"t0":1535,"t1":1540,"d0":100,"d1":200,"v":8.4},{"t0":1535,"t1":1540,"d0":50,"d1":100,"v":9.8},{"t0":1535,"t1":1540,"d0":5,"d1":50,"v":8.8},
{"t0":1540,"t1":1545,"d0":500,"d1":950,"v":5.3},{"t0":1540,"t1":1545,"d0":300,"d1":500,"v":6},{"t0":1540,"t1":1545,"d0":200,"d1":300,"v":7},{"t0":1540,"t1":1545,"d0":100,"d1":200,"v":8},{"t0":1540,"t1":1545,"d0":50,"d1":100,"v":8.4},{"t0":1540,"t1":1545,"d0":20,"d1":50,"v":8},{"t0":1540,"t1":1545,"d0":10,"d1":20,"v":7},{"t0":1540,"t1":1545,"d0":5,"d1":10,"v":5.3},
{"t0":1545,"t1":1551,"d0":500,"d1":950,"v":6.3},{"t0":1545,"t1":1551,"d0":300,"d1":500,"v":7},{"t0":1545,"t1":1551,"d0":200,"d1":300,"v":7.8},{"t0":1545,"t1":1551,"d0":50,"d1":200,"v":8.3},{"t0":1545,"t1":1551,"d0":20,"d1":50,"v":7.7},{"t0":1545,"t1":1551,"d0":10,"d1":20,"v":7},{"t0":1545,"t1":1551,"d0":5,"d1":10,"v":5.5},
{"t0":1551,"t1":1558,"d0":500,"d1":950,"v":5.3},{"t0":1551,"t1":1558,"d0":300,"d1":500,"v":7},{"t0":1551,"t1":1558,"d0":20,"d1":300,"v":8.4},{"t0":1551,"t1":1558,"d0":10,"d1":20,"v":8.2},{"t0":1551,"t1":1558,"d0":5,"d1":10,"v":7},
{"t0":1558,"t1":1566,"d0":500,"d1":950,"v":5.5},{"t0":1558,"t1":1566,"d0":300,"d1":500,"v":7},{"t0":1558,"t1":1566,"d0":50,"d1":300,"v":8.4},{"t0":1558,"t1":1566,"d0":20,"d1":50,"v":8.8},{"t0":1558,"t1":1566,"d0":10,"d1":20,"v":10.2},{"t0":1558,"t1":1566,"d0":5,"d1":10,"v":8.9},
{"t0":1566,"t1":1574,"d0":300,"d1":950,"v":5.3},{"t0":1566,"t1":1574,"d0":200,"d1":300,"v":7},{"t0":1566,"t1":1574,"d0":50,"d1":200,"v":8},{"t0":1566,"t1":1574,"d0":20,"d1":50,"v":7.7},{"t0":1566,"t1":1574,"d0":10,"d1":20,"v":9.7},{"t0":1566,"t1":1574,"d0":5,"d1":10,"v":5.3},
{"t0":1574,"t1":1578,"d0":300,"d1":950,"v":4.8},{"t0":1574,"t1":1578,"d0":5,"d1":300,"v":5.3},
{"t0":1597,"t1":1608,"d0":300,"d1":950,"v":3.3},{"t0":1597,"t1":1608,"d0":20,"d1":300,"v":4.4},{"t0":1597,"t1":1608,"d0":10,"d1":20,"v":4.2},
{"t0":1608,"t1":1614,"d0":500,"d1":950,"v":5},{"t0":1608,"t1":1614,"d0":300,"d1":500,"v":6.5},{"t0":1608,"t1":1614,"d0":100,"d1":300,"v":7},{"t0":1608,"t1":1614,"d0":20,"d1":100,"v":6.4},{"t0":1608,"t1":1614,"d0":10,"d1":20,"v":5.3},{"t0":1608,"t1":1614,"d0":5,"d1":10,"v":4.3},
{"t0":1614,"t1":1622,"d0":500,"d1":950,"v":6.3},{"t0":1614,"t1":1622,"d0":300,"d1":500,"v":7.7},{"t0":1614,"t1":1622,"d0":200,"d1":300,"v":8.3},{"t0":1614,"t1":1622,"d0":100,"d1":200,"v":8.4},{"t0":1614,"t1":1622,"d0":50,"d1":100,"v":7.8},{"t0":1614,"t1":1622,"d0":10,"d1":50,"v":7},{"t0":1614,"t1":1622,"d0":5,"d1":10,"v":7.7},
{"t0":1622,"t1":1627,"d0":5,"d1":950,"v":4.3},
{"t0":1633,"t1":1638,"d0":300,"d1":950,"v":5.3},{"t0":1633,"t1":1638,"d0":20,"d1":300,"v":6.3},{"t0":1633,"t1":1638,"d0":5,"d1":20,"v":5.4},
{"t0":1646,"t1":1657,"d0":500,"d1":950,"v":4.5},{"t0":1646,"t1":1657,"d0":300,"d1":500,"v":6.5},{"t0":1646,"t1":1657,"d0":200,"d1":300,"v":7.5},{"t0":1646,"t1":1657,"d0":100,"d1":200,"v":8},{"t0":1646,"t1":1657,"d0":50,"d1":100,"v":7.7},{"t0":1646,"t1":1657,"d0":20,"d1":50,"v":6.5},{"t0":1646,"t1":1657,"d0":10,"d1":20,"v":5.3},{"t0":1646,"t1":1657,"d0":5,"d1":10,"v":4.3},
{"t0":1657,"t1":1662,"d0":300,"d1":950,"v":5.2},{"t0":1657,"t1":1662,"d0":200,"d1":300,"v":6.5},{"t0":1657,"t1":1662,"d0":50,"d1":200,"v":7.7},{"t0":1657,"t1":1662,"d0":20,"d1":50,"v":7},{"t0":1657,"t1":1662,"d0":5,"d1":20,"v":5},
{"t0":1662,"t1":1667,"d0":500,"d1":950,"v":7.7},{"t0":1662,"t1":1667,"d0":50,"d1":500,"v":8.4},{"t0":1662,"t1":1667,"d0":20,"d1":50,"v":8.7},{"t0":1662,"t1":1667,"d0":10,"d1":20,"v":7.7},{"t0":1662,"t1":1667,"d0":5,"d1":10,"v":7},
{"t0":1674,"t1":1680,"d0":300,"d1":950,"v":4.4},{"t0":1674,"t1":1680,"d0":50,"d1":300,"v":4.6},{"t0":1674,"t1":1680,"d0":20,"d1":50,"v":4.4},{"t0":1674,"t1":1680,"d0":10,"d1":20,"v":5.3},{"t0":1674,"t1":1680,"d0":5,"d1":10,"v":4.2},
{"t0":1687,"t1":1691,"d0":300,"d1":950,"v":7},{"t0":1687,"t1":1691,"d0":10,"d1":300,"v":7.7},{"t0":1687,"t1":1691,"d0":5,"d1":10,"v":6},
{"t0":1695,"t1":1705,"d0":300,"d1":950,"v":3.3},{"t0":1695,"t1":1705,"d0":10,"d1":300,"v":4.4},
{"t0":1705,"t1":1717,"d0":500,"d1":950,"v":5.3},{"t0":1705,"t1":1717,"d0":300,"d1":500,"v":4.6},{"t0":1705,"t1":1717,"d0":200,"d1":300,"v":6},{"t0":1705,"t1":1717,"d0":100,"d1":200,"v":6.5},{"t0":1705,"t1":1717,"d0":50,"d1":100,"v":7},{"t0":1705,"t1":1717,"d0":20,"d1":50,"v":6.5},{"t0":1705,"t1":1717,"d0":10,"d1":20,"v":5.3},{"t0":1705,"t1":1717,"d0":5,"d1":10,"v":4.2},
{"t0":1717,"t1":1725,"d0":300,"d1":950,"v":7},{"t0":1717,"t1":1725,"d0":200,"d1":300,"v":8.4},{"t0":1717,"t1":1725,"d0":100,"d1":200,"v":8.2},{"t0":1717,"t1":1725,"d0":20,"d1":100,"v":7},{"t0":1717,"t1":1725,"d0":10,"d1":20,"v":4.6},{"t0":1717,"t1":1725,"d0":5,"d1":10,"v":4.2},
{"t0":1725,"t1":1733,"d0":500,"d1":950,"v":5.2},{"t0":1725,"t1":1733,"d0":50,"d1":500,"v":4.4},{"t0":1725,"t1":1733,"d0":20,"d1":50,"v":5.2},{"t0":1725,"t1":1733,"d0":5,"d1":20,"v":3.3},
{"t0":1735,"t1":1739,"d0":300,"d1":950,"v":7},{"t0":1735,"t1":1739,"d0":200,"d1":300,"v":6.5},{"t0":1735,"t1":1739,"d0":100,"d1":200,"v":7},{"t0":1735,"t1":1739,"d0":50,"d1":100,"v":7.7},{"t0":1735,"t1":1739,"d0":20,"d1":50,"v":8},{"t0":1735,"t1":1739,"d0":10,"d1":20,"v":8.4},{"t0":1735,"t1":1739,"d0":5,"d1":10,"v":5.3},
{"t0":1751,"t1":1757,"d0":100,"d1":950,"v":5.3},{"t0":1751,"t1":1757,"d0":50,"d1":100,"v":5},{"t0":1751,"t1":1757,"d0":10,"d1":50,"v":4.6},{"t0":1751,"t1":1757,"d0":5,"d1":10,"v":4.2},
{"t0":1765,"t1":1770,"d0":200,"d1":950,"v":4.6},{"t0":1765,"t1":1770,"d0":100,"d1":200,"v":5},{"t0":1765,"t1":1770,"d0":50,"d1":100,"v":4.2},{"t0":1765,"t1":1770,"d0":5,"d1":50,"v":3.3},
{"t0":1777,"t1":1779,"d0":20,"d1":200,"v":4.3},{"t0":1777,"t1":1779,"d0":10,"d1":20,"v":7},{"t0":1777,"t1":1779,"d0":5,"d1":10,"v":9.8}],
"chips":[{"d":5},{"d":10},{"d":20},{"d":50},{"d":100},{"d":200},{"d":500},{"d":1000}],
"strip":[{"lo":2.62,"hi":3.11},{"lo":3.11,"hi":3.45},{"lo":3.45,"hi":3.8},{"lo":3.8,"hi":4.13},{"lo":4.13,"hi":4.47},{"lo":4.47,"hi":4.81},{"lo":4.81,"hi":5.15},{"lo":5.15,"hi":5.48},{"lo":5.48,"hi":5.82},{"lo":5.82,"hi":6.17},{"lo":6.17,"hi":6.5},{"lo":6.5,"hi":6.85},{"lo":6.85,"hi":7.19},{"lo":7.19,"hi":7.53},{"lo":7.53,"hi":7.87},{"lo":7.87,"hi":8.22},{"lo":8.22,"hi":8.56},{"lo":8.56,"hi":8.9},{"lo":8.9,"hi":9.25},{"lo":9.25,"hi":9.58},{"lo":9.58,"hi":9.92},{"lo":9.92,"hi":10.26},{"lo":10.26,"hi":10.61},{"lo":10.61,"hi":10.95},{"lo":10.95,"hi":11.29},{"lo":11.29,"hi":11.63},{"lo":11.63,"hi":11.97},{"lo":11.97,"hi":12.3},{"lo":12.3,"hi":12.47}],
"ticks":[{"pos":3,"label":"1,E+3"},{"pos":4.8,"label":"6,3E+4"},{"pos":6.6,"label":"4,E+6"},{"pos":8.4,"label":"2,5E+8"},{"pos":10.2,"label":"1,6E+10"},{"pos":12,"label":"1,E+12"}]
},
"vconcat":[
{"width":801,"height":96,"view":{"stroke":"#3a3a4a","strokeWidth":2},
"title":{"text":"DMS 500, WLTC cold starts, pre-catalyst measurements","anchor":"start","dx":-5,"offset":-16,"fontSize":24.8,"fontWeight":"normal","color":"#333333"},
"layer":[
{"data":{"name":"speed"},"mark":{"type":"line","color":"black","strokeWidth":3.2,"strokeJoin":"round"},
"encoding":{"x":{"field":"t","type":"quantitative","axis":null,"scale":{"domain":[-6.8,1809],"nice":false}},
"y":{"field":"v","type":"quantitative","scale":{"domain":[0,4000],"nice":false},"axis":{"orient":"right","values":[0,1000,2000,3000,4000],"tickCount":5,"format":"d","grid":false,"domain":false,"ticks":false,"labelPadding":5,"labelFontSize":16,"labelFontWeight":"bold","labelColor":"#222222","labelOverlap":false,"labelBound":false,"title":["VEHICLE","SPEED"],"titleAngle":0,"titleX":23,"titleY":-32,"titleFontSize":12,"titleFontWeight":"bold","titleColor":"#222222","titleLineHeight":14,"titleAlign":"center"}}}},
{"data":{"values":[{"t0":-43,"t1":1809,"v":4000}]},"mark":{"type":"rule","color":"#3a3a4a","strokeWidth":1.5},
"encoding":{"x":{"field":"t0","type":"quantitative"},"x2":{"field":"t1"},"y":{"field":"v","type":"quantitative"}}}
]},
{"width":801,"height":196,
"layer":[
{"data":{"name":"heat"},"mark":{"type":"rect"},
"encoding":{"x":{"field":"t0","type":"quantitative","scale":{"domain":[-6.8,1809],"nice":false},"axis":{"values":[0,200,400,600,800,1000,1200,1400,1600,1800],"format":"d","grid":false,"ticks":false,"zindex":1,"domainColor":"#3a3a4a","domainWidth":2,"labelPadding":9,"labelFontSize":15,"labelFontWeight":"bold","labelColor":"#222222","title":"Time (sec)","titleFontSize":16,"titleFontWeight":"bold","titleColor":"#222222","titlePadding":10}},
"x2":{"field":"t1"},
"y":{"field":"d0","type":"quantitative","scale":{"type":"log","domain":[5,10,20,50,100,200,500,1000],"range":[195,170,145,117,89,63,30,0],"nice":false},"axis":{"values":[5,10,20,50,100,200,500,1000],"format":"d","grid":false,"zindex":1,"domainColor":"#3a3a4a","domainWidth":2,"tickColor":"#3a3a4a","tickWidth":2,"tickSize":16,"labelPadding":23,"labelAlign":"center","labelFontSize":15,"labelFontWeight":"bold","labelColor":"white","labelOverlap":false,"labelBound":false,"title":"PARTICLE DIAMETER (nm)","titleFontSize":16,"titleFontWeight":"bold","titleColor":"#222222","titleX":-76,"titleY":96}},
"y2":{"field":"d1"},
"color":{"field":"v","type":"quantitative","legend":null,"scale":{"type":"threshold","domain":[3.11,3.45,3.8,4.13,4.47,4.81,5.15,5.48,5.82,6.17,6.5,6.85,7.19,7.53,7.87,8.22,8.56,8.9,9.25,9.58,9.92,10.26,10.61,10.95,11.29,11.63,11.97,12.3],"range":["#52086c","#5f3095","#4f5098","#1c0f80","#1c0f80","#2a6cae","#1ca8c8","#1fa9c9","#20a8c5","#20a090","#35ab80","#1b9638","#1c9638","#1e9838","#8fcb2a","#cde82f","#f5f717","#f6de15","#f8bb10","#f8981a","#f96515","#f51010","#f01515","#ea4060","#ef5a6a","#fb6468","#fb8c92","#f5d5d5","#fbf5fa"]}}}},
{"data":{"name":"chips"},"transform":[{"calculate":"-95","as":"t"}],"mark":{"type":"rect","width":45,"height":19,"cornerRadius":5,"color":"#2e2e40"},
"encoding":{"x":{"field":"t","type":"quantitative"},"y":{"field":"d","type":"quantitative"}}},
{"data":{"values":[{"t0":5,"t1":1790,"d":28}]},"mark":{"type":"rule","color":"white","strokeWidth":3,"strokeDash":[10,8]},
"encoding":{"x":{"field":"t0","type":"quantitative"},"x2":{"field":"t1"},"y":{"field":"d","type":"quantitative"}}},
{"data":{"values":[{"t":-2,"d0":5,"d1":24}]},"mark":{"type":"rule","color":"white","strokeWidth":2,"strokeDash":[8,6]},
"encoding":{"x":{"field":"t","type":"quantitative"},"y":{"field":"d0","type":"quantitative"},"y2":{"field":"d1"}}},
{"data":{"values":[{"t":1809,"d0":4.9,"d1":1000}]},"mark":{"type":"rule","color":"#3a3a4a","strokeWidth":2},
"encoding":{"x":{"field":"t","type":"quantitative"},"y":{"field":"d0","type":"quantitative"},"y2":{"field":"d1"}}}
]},
{"width":801,"height":120,
"title":{"text":"© 2021 Infineum International Limited. All rights reserved","orient":"bottom","anchor":"start","dx":-35,"offset":0,"fontSize":9.7,"fontWeight":"normal","color":"#222222"},
"layer":[
{"data":{"name":"strip"},"transform":[{"calculate":"(datum.lo+datum.hi)/2","as":"v"},{"calculate":"0","as":"y0"},{"calculate":"1","as":"y1"}],"mark":{"type":"rect"},
"encoding":{"x":{"field":"lo","type":"quantitative","axis":null,"scale":{"domain":[-14.39,12.5],"nice":false}},"x2":{"field":"hi"},
"y":{"field":"y0","type":"quantitative","axis":null,"scale":{"domain":[0,1],"range":[120,70],"nice":false}},"y2":{"field":"y1"},
"color":{"field":"v","type":"quantitative","legend":null,"scale":{"type":"threshold","domain":[3.11,3.45,3.8,4.13,4.47,4.81,5.15,5.48,5.82,6.17,6.5,6.85,7.19,7.53,7.87,8.22,8.56,8.9,9.25,9.58,9.92,10.26,10.61,10.95,11.29,11.63,11.97,12.3],"range":["#52086c","#5f3095","#4f5098","#1c0f80","#1c0f80","#2a6cae","#1ca8c8","#1fa9c9","#20a8c5","#20a090","#35ab80","#1b9638","#1c9638","#1e9838","#8fcb2a","#cde82f","#f5f717","#f6de15","#f8bb10","#f8981a","#f96515","#f51010","#f01515","#ea4060","#ef5a6a","#fb6468","#fb8c92","#f5d5d5","#fbf5fa"]}}}},
{"data":{"name":"ticks"},"transform":[{"calculate":"-0.3","as":"y"}],"mark":{"type":"text","fontSize":13,"fontWeight":"bold","color":"#222222"},
"encoding":{"x":{"field":"pos","type":"quantitative"},"y":{"field":"y","type":"quantitative"},"text":{"field":"label"}}},
{"data":{"values":[{"pos":7.5,"y":-0.7,"label":"#/s"}]},"mark":{"type":"text","fontSize":16,"fontWeight":"bold","color":"#222222"},
"encoding":{"x":{"field":"pos","type":"quantitative"},"y":{"field":"y","type":"quantitative"},"text":{"field":"label"}}}
]}
]}
